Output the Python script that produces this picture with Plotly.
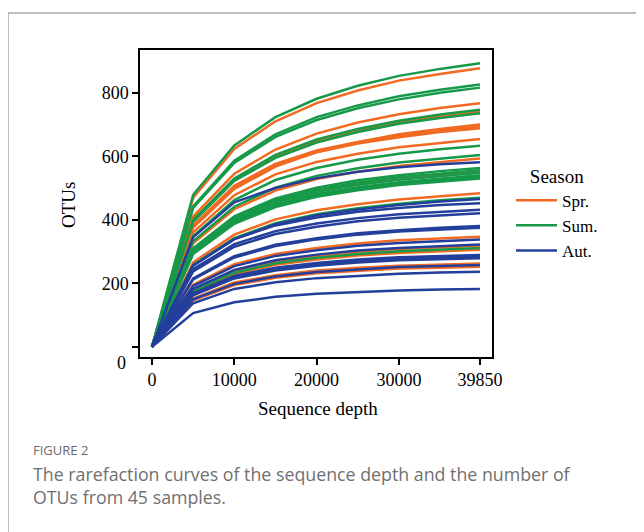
import plotly.graph_objects as go

depths = [0, 5000, 10000, 15000, 20000, 25000, 30000, 35000, 39850]

spr = [
    [0, 469, 623, 710, 767, 807, 838, 859, 877],
    [0, 410, 545, 621, 671, 706, 732, 752, 767],
    [0, 396, 525, 599, 648, 681, 707, 725, 740],
    [0, 375, 497, 567, 613, 644, 669, 686, 700],
    [0, 382, 507, 576, 618, 645, 666, 682, 694],
    [0, 378, 502, 571, 612, 640, 660, 676, 688],
    [0, 360, 477, 543, 582, 608, 628, 642, 654],
    [0, 326, 433, 492, 528, 551, 569, 582, 593],
    [0, 303, 402, 457, 490, 512, 528, 540, 550],
    [0, 266, 353, 401, 430, 449, 464, 474, 483],
    [0, 195, 260, 292, 311, 325, 335, 341, 346],
    [0, 180, 239, 269, 286, 299, 308, 314, 318],
    [0, 172, 229, 258, 275, 287, 295, 301, 305],
    [0, 152, 202, 225, 240, 249, 255, 259, 262],
    [0, 146, 194, 217, 231, 239, 246, 249, 252],
]

sum_ = [
    [0, 478, 634, 723, 781, 822, 853, 875, 893],
    [0, 442, 586, 669, 723, 760, 789, 809, 826],
    [0, 437, 579, 661, 714, 751, 779, 800, 816],
    [0, 399, 530, 604, 653, 686, 712, 731, 746],
    [0, 393, 522, 595, 643, 676, 702, 720, 735],
    [0, 348, 462, 525, 563, 589, 608, 622, 633],
    [0, 332, 441, 501, 538, 562, 580, 593, 604],
    [0, 310, 411, 467, 501, 524, 540, 553, 563],
    [0, 306, 406, 461, 495, 517, 534, 546, 556],
    [0, 301, 400, 455, 488, 510, 526, 538, 548],
    [0, 297, 394, 448, 481, 502, 518, 530, 540],
    [0, 294, 391, 444, 476, 498, 514, 525, 535],
    [0, 292, 387, 440, 472, 493, 509, 520, 530],
    [0, 258, 342, 389, 417, 436, 450, 461, 469],
    [0, 176, 233, 263, 280, 292, 301, 307, 311],
]

aut = [
    [0, 345, 455, 500, 531, 551, 565, 575, 581],
    [0, 256, 339, 386, 414, 432, 446, 457, 465],
    [0, 255, 339, 382, 407, 425, 437, 446, 452],
    [0, 244, 323, 364, 388, 405, 417, 425, 431],
    [0, 237, 315, 355, 378, 395, 406, 414, 420],
    [0, 215, 285, 321, 342, 357, 367, 375, 380],
    [0, 212, 281, 317, 338, 353, 363, 370, 375],
    [0, 191, 254, 286, 304, 318, 327, 333, 338],
    [0, 182, 242, 272, 290, 303, 311, 317, 322],
    [0, 168, 223, 249, 264, 275, 282, 286, 289],
    [0, 165, 219, 244, 260, 270, 277, 281, 284],
    [0, 162, 215, 240, 255, 265, 272, 276, 279],
    [0, 149, 198, 221, 235, 244, 251, 254, 257],
    [0, 137, 182, 203, 216, 224, 230, 234, 236],
    [0, 106, 140, 157, 167, 173, 177, 180, 182],
]

seasons = ["Spr.", "Sum.", "Aut."]
colors = ["#F26A22", "#17994A", "#233F9B"]
x_ticks = [0, 10000, 20000, 30000, 39850]
x_ticktext = ["0", "10000", "20000", "30000", "39850"]
y_ticks = [0, 200, 400, 600, 800]
y_ticktext = ["", "200", "400", "600", "800"]

serif = "Liberation Serif, Times New Roman, serif"
sans = "Open Sans, Lato, sans-serif"

fig = go.Figure()
for name, color, group in zip(seasons, colors, [spr, sum_, aut]):
    for i, vals in enumerate(group):
        fig.add_trace(go.Scatter(
            x=depths, y=vals, mode="lines", name=name,
            legendgroup=name, showlegend=(i == 0),
            line=dict(color=color, width=2.5),
            hoverinfo="skip",
        ))

# page has an 8px body margin; coordinates below are page pixels
OFF = 8
W, H = 644 - OFF, 532 - OFF
L, R, T, B = 140 - OFF, 492 - OFF, 50 - OFF, 357 - OFF
pw, ph = R - L, B - T


def px(xp):
    return (xp - OFF - L) / pw


def py(yp):
    return (B - (yp - OFF)) / ph


fig.update_layout(
    width=W, height=H,
    margin=dict(l=L, r=W - R, t=T, b=H - B, pad=0, autoexpand=False),
    paper_bgcolor="white", plot_bgcolor="white",
    font=dict(family=serif, size=18, color="black"),
    xaxis=dict(
        range=[-1458, 41312], tickvals=x_ticks, ticktext=x_ticktext,
        showgrid=False, zeroline=False, showline=True, mirror=True,
        linecolor="black", linewidth=1.5, ticks="outside", ticklen=6,
        tickwidth=1.5, tickcolor="black", automargin=False,
        tickfont=dict(family=serif, size=18, color="black"),
    ),
    yaxis=dict(
        range=[-32.4, 934.5], tickvals=y_ticks, ticktext=y_ticktext,
        showgrid=False, zeroline=False, showline=True, mirror=True,
        linecolor="black", linewidth=1.5, ticks="outside", ticklen=6,
        tickwidth=1.5, tickcolor="black", automargin=False,
        tickfont=dict(family=serif, size=18, color="black"),
    ),
    legend=dict(
        title=dict(text="Season", side="top center",
                   font=dict(family=serif, size=19, color="black")),
        font=dict(family=serif, size=17, color="black"),
        x=px(511), y=py(158), xanchor="left", yanchor="top",
        bgcolor="rgba(0,0,0,0)", itemwidth=41, tracegroupgap=0,
    ),
    showlegend=True,
)

annotations = [
    dict(text="0", x=px(128), y=py(363), xanchor="right", yanchor="middle",
         font=dict(family=serif, size=18, color="black")),
    dict(text="OTUs", x=px(68), y=py(205), xanchor="center", yanchor="middle",
         textangle=-90, font=dict(family=serif, size=19, color="black")),
    dict(text="Sequence depth", x=px(318), y=py(408), xanchor="center",
         yanchor="middle", font=dict(family=serif, size=19, color="black")),
    dict(text="FIGURE 2", x=px(31), y=py(450), xanchor="left", yanchor="middle",
         font=dict(family=sans, size=13, color="#6a6a6a")),
    dict(text="The rarefaction curves of the sequence depth and the number of",
         x=px(31), y=py(474), xanchor="left", yanchor="middle",
         font=dict(family=sans, size=17.8, color="#707070")),
    dict(text="OTUs from 45 samples.", x=px(31), y=py(497), xanchor="left",
         yanchor="middle", font=dict(family=sans, size=17.8, color="#707070")),
]
for a in annotations:
    a.update(xref="paper", yref="paper", showarrow=False)
fig.update_layout(annotations=annotations)

fig.add_shape(
    type="path", xref="paper", yref="paper",
    path=f"M {px(700)},{py(13)} L {px(8)},{py(13)} L {px(8)},{py(600)}",
    line=dict(color="#a8a8a8", width=1.5),
)

fig.write_html("out.html")
